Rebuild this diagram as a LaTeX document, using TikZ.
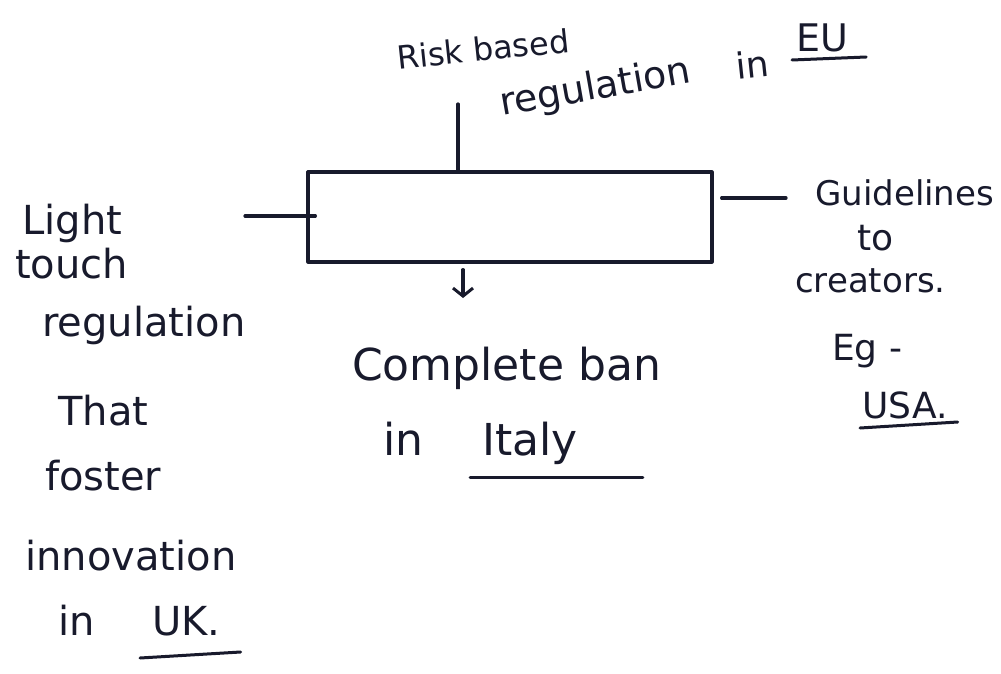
\documentclass[tikz,border=0pt]{standalone}
\usepackage{fontspec}
\setmainfont{DejaVu Sans}
\usetikzlibrary{arrows.meta}
\definecolor{inkc}{RGB}{24,26,44}
\begin{document}
\begin{tikzpicture}[x=1pt,y=-1pt,
  ink/.style={draw=inkc, line width=3.2pt, line cap=round, line join=round},
  hand/.style={text=inkc, inner sep=0pt, anchor=base west, font=\fontsize{40}{44}\selectfont},
  handsize/.style={font=\fontsize{#1}{#1}\selectfont},
  uline/.style={draw=inkc, line width=3pt, line cap=round},
]
\useasboundingbox (0,0) rectangle (1001,674);
\fill[white] (0,0) rectangle (1001,674);

% central box
\node[ink, minimum width=404pt, minimum height=90pt, inner sep=0pt] (box) at (510,217) {};

% top label, written on a rising slant
\node[hand, handsize=32, rotate=6] (riskA) at (398,70) {Risk based};
\node[hand, handsize=38, rotate=10] (riskB) at (502,116) {regulation};
\node[hand, handsize=36, rotate=6] (riskIn) at (737,80) {in};
\node[hand, handsize=38] (eu) at (796,52) {EU};
\draw[uline] ([xshift=-4pt,yshift=-8pt]eu.base west) -- ([xshift=18pt,yshift=-5pt]eu.base east);

% left label
\node[hand] (light) at (22,234) {Light};
\node[hand] (touch) at (15,278) {touch};
\node[hand] (regl) at (42,336) {regulation};
\node[hand] (that) at (58,425) {That};
\node[hand] (foster) at (45,490) {foster};
\node[hand] (innov) at (25,570) {innovation};
\node[hand] (inA) at (58,635) {in};
\node[hand] (uk) at (152,635) {UK.};
\draw[uline] ([xshift=-12pt,yshift=-23pt]uk.base west) -- ([xshift=20pt,yshift=-17pt]uk.base east);

% bottom label
\node[hand, handsize=44] (ban) at (352,380) {Complete ban};
\node[hand, handsize=44] (inB) at (383,455) {in};
\node[hand, handsize=44] (italy) at (482,455) {Italy};
\draw[uline] ([xshift=-12pt,yshift=-22pt]italy.base west) -- ([xshift=65pt,yshift=-22pt]italy.base east);

% right label
\node[hand, handsize=34] (guide) at (815,205) {Guidelines};
\node[hand, handsize=36] (to) at (857,250) {to};
\node[hand, handsize=34] (creat) at (795,292) {creators.};
\node[hand, handsize=36] (eg) at (832,360) {Eg -};
\node[hand, handsize=36] (usa) at (862,418) {USA.};
\draw[uline] ([xshift=-2pt,yshift=-10pt]usa.base west) -- ([xshift=10pt,yshift=-4pt]usa.base east);

% connectors
\coordinate (topEnd) at (458,104);
\draw[ink] (topEnd) -- (topEnd |- box.north);

\coordinate (leftEnd) at (245,216);
\draw[ink] (leftEnd) -- ([xshift=9pt]box.west |- leftEnd);

\coordinate (rightEnd) at (786,198);
\draw[ink] ([xshift=8pt]box.east |- rightEnd) -- (rightEnd);

\coordinate (botEnd) at (463,298);
\draw[ink, -{Straight Barb[length=8pt,width=20pt,line width=3pt]}, shorten <=6pt] (box.south -| botEnd) -- (botEnd);
\end{tikzpicture}
\end{document}
